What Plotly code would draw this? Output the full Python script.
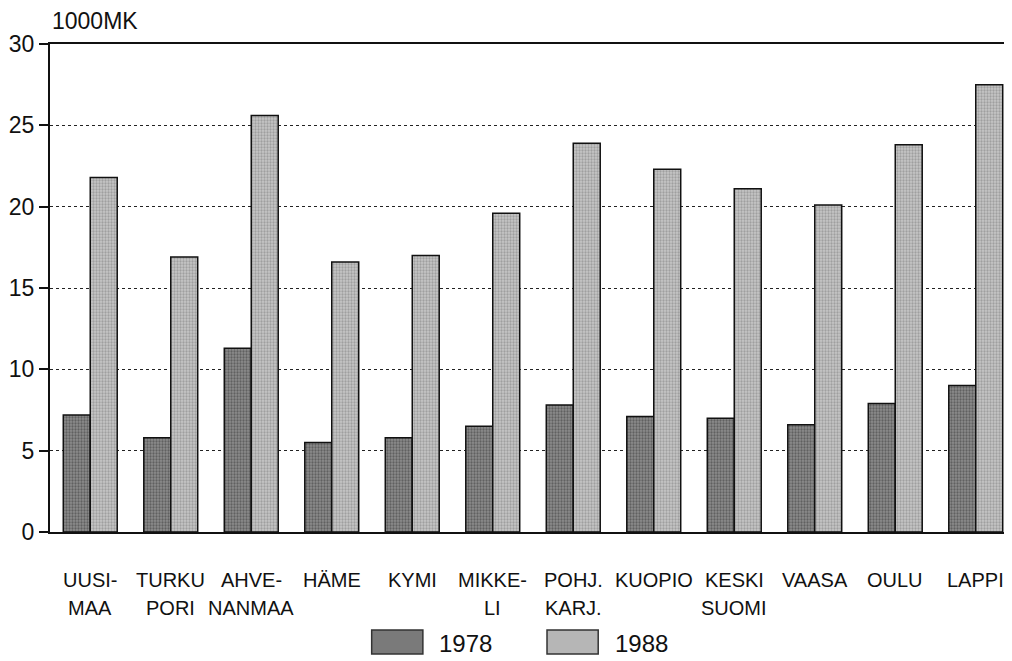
import plotly.graph_objects as go

regions = ["UUSIMAA", "TURKU PORI", "AHVENANMAA", "HÄME", "KYMI", "MIKKELI",
           "POHJ. KARJ.", "KUOPIO", "KESKI SUOMI", "VAASA", "OULU", "LAPPI"]
label_line1 = ["UUSI-", "TURKU", "AHVE-", "HÄME", "KYMI", "MIKKE-",
               "POHJ.", "KUOPIO", "KESKI", "VAASA", "OULU", "LAPPI"]
label_line2 = ["MAA", "PORI", "NANMAA", "", "", "LI",
               "KARJ.", "", "SUOMI", "", "", ""]
v1978 = [7.2, 5.8, 11.3, 5.5, 5.8, 6.5, 7.8, 7.1, 7.0, 6.6, 7.9, 9.0]
v1988 = [21.8, 16.9, 25.6, 16.6, 17.0, 19.6, 23.9, 22.3, 21.1, 20.1, 23.8, 27.5]
y_ticks = [0, 5, 10, 15, 20, 25, 30]
series_names = ["1978", "1988"]

FONT = "Liberation Sans, Arial, sans-serif"
colors = {"1978": ("#7a7a7a", "#333333", "#8c8c8c"),
          "1988": ("#b6b6b6", "#777777", "#c6c6c6")}

fig = go.Figure()
for name, vals in zip(series_names, [v1978, v1988]):
    base, fg, bg = colors[name]
    fig.add_trace(go.Bar(
        x=regions, y=vals, name=name, showlegend=False,
        marker=dict(color=base, line=dict(color="#111", width=1.5),
                    pattern=dict(shape=".", fgcolor=fg, bgcolor=bg,
                                 size=3, solidity=0.45)),
    ))

# the page body adds an 8px offset; the plot area runs just past the right edge
fig.update_layout(
    width=1012, height=653,
    margin=dict(l=42, r=4, t=36, b=129, autoexpand=False),
    paper_bgcolor="white", plot_bgcolor="white",
    barmode="group", bargap=0.33, bargroupgap=0.0,
    font=dict(family=FONT, color="#111"),
    showlegend=False,
)

fig.update_xaxes(
    tickvals=regions, ticktext=[""] * len(regions), automargin=False,
    showline=True, linecolor="#111", linewidth=2, mirror=True,
    showgrid=False, ticks="",
)
fig.update_yaxes(
    range=[0, 30], tickvals=y_ticks, ticktext=[str(t) for t in y_ticks],
    automargin=False,
    showline=True, linecolor="#111", linewidth=2, mirror=True,
    showgrid=True, gridcolor="#222", griddash="dot", gridwidth=1.3,
    ticks="outside", ticklen=9, tickcolor="#111", tickwidth=1.5,
    tickfont=dict(size=23, family=FONT), zeroline=False,
)

for r, a, b in zip(regions, label_line1, label_line2):
    fig.add_annotation(x=r, xref="x", y=-0.098, yref="paper", text=a,
                       showarrow=False, font=dict(size=20, family=FONT),
                       xanchor="center", yanchor="middle")
    if b:
        fig.add_annotation(x=r, xref="x", y=-0.156, yref="paper", text=b,
                           showarrow=False, font=dict(size=20, family=FONT),
                           xanchor="center", yanchor="middle")

fig.add_annotation(x=0.0, xref="paper", y=1.047, yref="paper", text="1000MK",
                   showarrow=False, font=dict(size=23, family=FONT),
                   xanchor="left", yanchor="middle")

# custom legend (large swatches as in the original)
legend_x = [0.333, 0.5145]
for name, lx in zip(series_names, legend_x):
    base, fg, bg = colors[name]
    fig.add_shape(type="rect", xref="paper", yref="paper",
                  x0=lx, x1=lx + 0.053, y0=-0.250, y1=-0.201,
                  fillcolor=base, line=dict(color="#333", width=1.5))
    fig.add_annotation(x=lx + 0.068, xref="paper", y=-0.228, yref="paper",
                       text=name, showarrow=False,
                       font=dict(size=24, family=FONT),
                       xanchor="left", yanchor="middle")

fig.write_html("out.html")
